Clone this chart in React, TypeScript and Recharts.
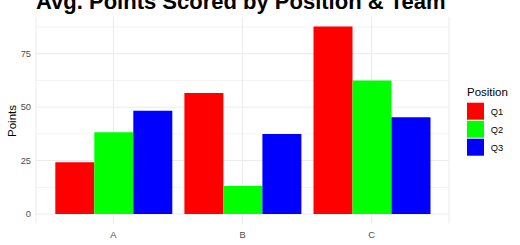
import { BarChart, Bar, XAxis, YAxis, CartesianGrid } from "recharts";

const teams = ["A", "B", "C"];
const q1 = [24.2, 56.6, 87.8];
const q2 = [38.3, 13.1, 62.5];
const q3 = [48.3, 37.4, 45.3];
const yTicks = [0, 25, 50, 75];
const minorTicks = [12.5, 37.5, 62.5, 87.5];

const positions = [
  { key: "Q1", color: "#FF0000" },
  { key: "Q2", color: "#00FF00" },
  { key: "Q3", color: "#0000FF" },
];

const data = teams.map((team, i) => ({ team, Q1: q1[i], Q2: q2[i], Q3: q3[i] }));

const font = "'Liberation Sans', Arial, sans-serif";

export default function App() {
  return (
    <div style={{ position: "absolute", left: 0, top: 0, width: 520, height: 245, background: "#fff", fontFamily: font }}>
      <BarChart
        width={520}
        height={245}
        data={data}
        margin={{ top: 17, right: 71, bottom: 0, left: 0 }}
        barGap={0}
        barCategoryGap="5%"
      >
        <CartesianGrid horizontal={true} vertical={false} horizontalValues={minorTicks} stroke="#f3f3f3" />
        <CartesianGrid horizontal={true} vertical={true} horizontalValues={yTicks} stroke="#ebebeb" />
        <XAxis
          dataKey="team"
          height={21.6}
          tickLine={false}
          axisLine={false}
          tickSize={0}
          tickMargin={7.5}
          padding={{ left: 12.85, right: 12.85 }}
          tick={{ fill: "#4d4d4d", fontSize: 9.3, fontFamily: font }}
        />
        <YAxis
          width={36}
          type="number"
          domain={[-4.39, 92.19]}
          allowDataOverflow
          ticks={yTicks}
          tickLine={false}
          axisLine={false}
          tickSize={0}
          tickMargin={5}
          tick={{ fill: "#4d4d4d", fontSize: 9.3, fontFamily: font }}
        />
        {positions.map((p) => (
          <Bar key={p.key} dataKey={p.key} fill={p.color} isAnimationActive={false} />
        ))}
      </BarChart>
      <svg width={520} height={245} style={{ position: "absolute", left: 0, top: 0, pointerEvents: "none" }}>
        <text x={36} y={9} fontSize={22} fontWeight="bold" fill="#000" fontFamily={font}>
          Avg. Points Scored by Position &amp; Team
        </text>
        <text x={0} y={0} transform="translate(16,121) rotate(-90)" textAnchor="middle" fontSize={11.5} fill="#000" fontFamily={font}>
          Points
        </text>
        <text x={242.6} y={252.5} textAnchor="middle" fontSize={11.5} fill="#000" fontFamily={font}>
          Team
        </text>
        <text x={467} y={96.3} fontSize={11.5} fill="#000" fontFamily={font}>
          Position
        </text>
        {positions.map((p, i) => (
          <g key={p.key}>
            <rect x={467} y={102.7 + i * 18} width={17} height={17} fill={p.color} />
            <text x={490.7} y={114.6 + i * 18} fontSize={9.3} fill="#000" fontFamily={font}>
              {p.key}
            </text>
          </g>
        ))}
      </svg>
    </div>
  );
}
